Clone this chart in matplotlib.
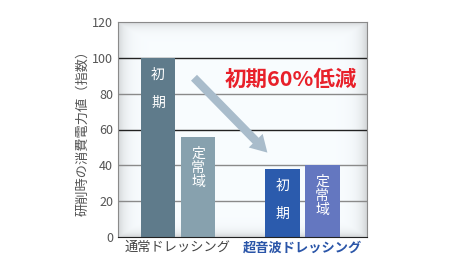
import numpy as np
import matplotlib.pyplot as plt

plt.rcParams['font.family'] = ['Noto Sans CJK JP', 'DejaVu Sans']

groups = ['通常ドレッシング', '超音波ドレッシング']
bar_labels = ['初\n\n期', '定\n常\n域', '初\n\n期', '定\n常\n域']
values = [100, 56, 38, 40]
colors = ['#5f7b8b', '#87a1ae', '#2b5bad', '#6477c0']
yticks = [0, 20, 40, 60, 80, 100, 120]
note = '初期60%低減'
ylabel = '研削時の消費電力値（指数）'

x = [1.0, 2.0, 4.1, 5.1]

fig = plt.figure(figsize=(4.6, 2.77), dpi=100)
ax = fig.add_axes([118/460, 40/277, 249/460, 215/277])

# soft vignette background
nx, ny = 200, 200
gx = np.linspace(0, 1, nx)
gy = np.linspace(0, 1, ny)
dx = np.minimum(gx, 1 - gx)[None, :]
dy = np.minimum(gy, 1 - gy)[:, None]
d = np.minimum(dx * 6, dy * 8)
shade = 1 - 0.15 * np.exp(-d * 6)
bg = np.dstack([shade * 0.975, shade * 0.99, shade * 1.0])
bg = np.clip(bg, 0, 1)
ax.imshow(bg, extent=[0, 1, 0, 1], transform=ax.transAxes, aspect='auto', zorder=0)

for yv in [20, 40, 80]:
    ax.axhline(yv, color='#8a8a8a', lw=1, zorder=1)
for yv in [60, 100]:
    ax.axhline(yv, color='#222222', lw=1, zorder=1)

ax.bar(x, values, width=0.87, color=colors, zorder=2)

for xi, v, lab in zip(x, values, bar_labels):
    ax.text(xi, v - 5.5, lab, ha='center', va='top', color='white', fontsize=10,
            linespacing=1.0, zorder=3)

ax.annotate('', xy=(3.78, 46), xytext=(1.85, 90),
            arrowprops=dict(arrowstyle='simple,head_width=1.4,head_length=1.2,tail_width=0.6',
                            color='#a9bccb', lw=0), zorder=2)
ax.text(4.32, 88, note, ha='center', va='center', color='#e8202a', fontsize=15.5,
        fontweight='bold', zorder=3)

ax.set_xlim(-0.0, 6.22)
ax.set_ylim(0, 120)
ax.set_yticks(yticks)
ax.tick_params(axis='y', length=0, colors='#555555', labelsize=9)
ax.set_xticks([1.5, 4.6])
ax.set_xticklabels(groups, fontsize=9.5)
ax.tick_params(axis='x', length=0, pad=3)
xl = ax.get_xticklabels()
xl[0].set_color('#444444')
xl[1].set_color('#2a55a8')
xl[1].set_fontweight('bold')
ax.set_ylabel(ylabel, color='#555555', fontsize=9.5, labelpad=2)

for s in ['top', 'right', 'left']:
    ax.spines[s].set_color('#8a8a8a')
ax.spines['bottom'].set_color('#222222')

fig.savefig('out.png', dpi=100)
